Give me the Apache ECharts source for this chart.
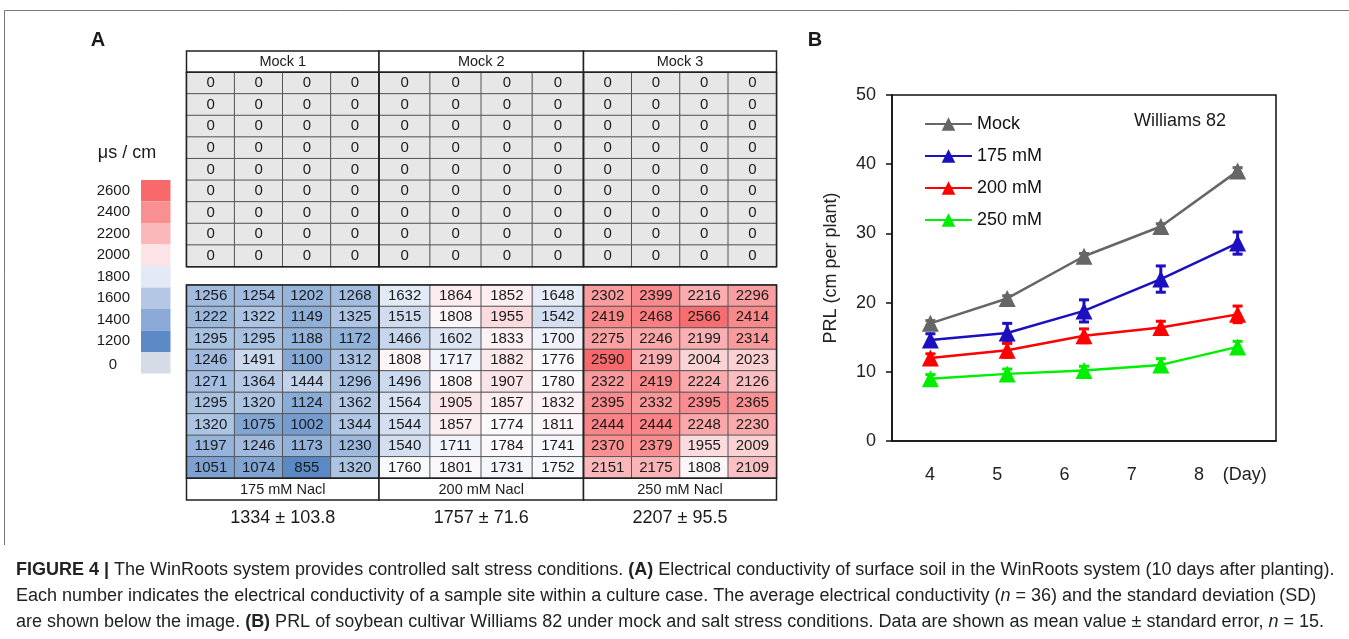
<!DOCTYPE html>
<html>
<head>
<meta charset="utf-8">
<title>Figure 4</title>
<script src="https://cdn.jsdelivr.net/npm/echarts@6.0.0/dist/echarts.min.js"></script>
<style>
  html, body { margin: 0; padding: 0; background: #fff; }
  #main { width: 1349px; height: 639px; }
</style>
</head>
<body>
<div id="main"></div>
<script>
// ---- panel A: conductivity (us/cm), 9 rows x 4 sites per culture case
var siteCols = ['1', '2', '3', '4'];
var siteRows = ['1', '2', '3', '4', '5', '6', '7', '8', '9'];

var mockNames = ['Mock 1', 'Mock 2', 'Mock 3'];
var saltNames = ['175 mM Nacl', '200 mM Nacl', '250 mM Nacl'];
var saltStats = ['1334 \u00b1 103.8', '1757 \u00b1 71.6', '2207 \u00b1 95.5'];

var mock1 = [[0,0,0,0],[0,0,0,0],[0,0,0,0],[0,0,0,0],[0,0,0,0],[0,0,0,0],[0,0,0,0],[0,0,0,0],[0,0,0,0]];
var mock2 = [[0,0,0,0],[0,0,0,0],[0,0,0,0],[0,0,0,0],[0,0,0,0],[0,0,0,0],[0,0,0,0],[0,0,0,0],[0,0,0,0]];
var mock3 = [[0,0,0,0],[0,0,0,0],[0,0,0,0],[0,0,0,0],[0,0,0,0],[0,0,0,0],[0,0,0,0],[0,0,0,0],[0,0,0,0]];

var salt175 = [
  [1256, 1254, 1202, 1268],
  [1222, 1322, 1149, 1325],
  [1295, 1295, 1188, 1172],
  [1246, 1491, 1100, 1312],
  [1271, 1364, 1444, 1296],
  [1295, 1320, 1124, 1362],
  [1320, 1075, 1002, 1344],
  [1197, 1246, 1173, 1230],
  [1051, 1074, 855, 1320]
];
var salt200 = [
  [1632, 1864, 1852, 1648],
  [1515, 1808, 1955, 1542],
  [1466, 1602, 1833, 1700],
  [1808, 1717, 1882, 1776],
  [1496, 1808, 1907, 1780],
  [1564, 1905, 1857, 1832],
  [1544, 1857, 1774, 1811],
  [1540, 1711, 1784, 1741],
  [1760, 1801, 1731, 1752]
];
var salt250 = [
  [2302, 2399, 2216, 2296],
  [2419, 2468, 2566, 2414],
  [2275, 2246, 2199, 2314],
  [2590, 2199, 2004, 2023],
  [2322, 2419, 2224, 2126],
  [2395, 2332, 2395, 2365],
  [2444, 2444, 2248, 2230],
  [2370, 2379, 1955, 2009],
  [2151, 2175, 1808, 2109]
];

var scaleLabels = ['2600', '2400', '2200', '2000', '1800', '1600', '1400', '1200', '0'];
var scaleColors = ['#f8696b', '#f98f91', '#fbb8ba', '#fce4e6', '#e3e9f5', '#b4c7e4', '#8caad7', '#5b8ac6', '#d6dce5'];

// ---- panel B: PRL (cm per plant)
var days = [4, 5, 6, 7, 8];
var dayLabels = ['4', '5', '6', '7', '8', '(Day)'];
var dayLabelPos = [4, 5, 6, 7, 8, 8.68];
var prlMock = [17.0, 20.6, 26.7, 31.0, 39.0];
var prl175 = [14.6, 15.6, 18.8, 23.4, 28.6];
var prl200 = [12.0, 13.1, 15.2, 16.4, 18.3];
var prl250 = [9.0, 9.7, 10.2, 11.0, 13.6];
var errMock = [0.4, 0.4, 0.4, 0.4, 0.5];
var err175 = [0.9, 1.4, 1.6, 1.9, 1.6];
var err200 = [0.6, 1.0, 1.0, 0.9, 1.2];
var err250 = [0.6, 0.7, 0.6, 0.9, 0.8];

var FONT = '"Liberation Sans", Arial, sans-serif';

function toCells(mat) {
  var out = [];
  mat.forEach(function (r, i) {
    r.forEach(function (v, j) { out.push([j, i, v]); });
  });
  return out;
}

// excel-like 3 colour scale, white a bit above the middle
function hex2rgb(h) { return [parseInt(h.substr(1, 2), 16), parseInt(h.substr(3, 2), 16), parseInt(h.substr(5, 2), 16)]; }
function mix(a, b, t) {
  var A = hex2rgb(a), B = hex2rgb(b);
  return 'rgb(' + [0, 1, 2].map(function (k) { return Math.round(A[k] + (B[k] - A[k]) * t); }).join(',') + ')';
}
var vmMin = 855, vmMax = 2590, vmMid = 1775;
var stops = [];
for (var k = 0; k <= 40; k++) {
  var v = vmMin + (vmMax - vmMin) * k / 40;
  stops.push(v < vmMid ? mix('#5a8ac6', '#fcfcff', (v - vmMin) / (vmMid - vmMin))
                       : mix('#fcfcff', '#f8696b', (v - vmMid) / (vmMax - vmMid)));
}

var blocks = [[186.5, 192.5], [379, 204.5], [583.5, 193]];
var topY = 72.3, topH = 194.4, botY = 285, botH = 193.3;

var grids = [], xAxes = [], yAxes = [], series = [];
var mats = [mock1, mock2, mock3, salt175, salt200, salt250];
mats.forEach(function (m, i) {
  var b = blocks[i % 3];
  var isTop = i < 3;
  grids.push({ left: b[0], width: b[1], top: isTop ? topY : botY, height: isTop ? topH : botH });
  xAxes.push({ type: 'category', gridIndex: i, data: siteCols, show: false });
  yAxes.push({ type: 'category', gridIndex: i, data: siteRows, inverse: true, show: false });
  series.push({
    type: 'heatmap', xAxisIndex: i, yAxisIndex: i,
    data: toCells(m),
    itemStyle: { borderColor: '#555', borderWidth: 1 },
    label: { show: true, fontSize: 15, fontFamily: FONT, color: '#1a1a1a',
             formatter: function (p) { return p.value[2]; } },
    emphasis: { disabled: true }
  });
});

// panel B grid + axes (index 6)
grids.push({ left: 892, top: 95, width: 384, height: 346, show: true, borderColor: '#111', borderWidth: 1.5 });
xAxes.push({
  type: 'value', gridIndex: 6, min: 3.5, max: 8.5,
  axisLine: { lineStyle: { color: '#111', width: 1.5 } },
  axisTick: { show: false }, axisLabel: { show: false }, splitLine: { show: false }
});
xAxes.push({
  type: 'value', gridIndex: 6, min: 3.435, max: 9.145, position: 'bottom',
  axisLine: { show: false }, axisTick: { show: false }, splitLine: { show: false },
  axisLabel: {
    customValues: dayLabelPos, margin: 25, fontSize: 18, color: '#222', fontFamily: FONT,
    formatter: function (v) { return dayLabels[dayLabelPos.indexOf(v)]; }
  }
});
yAxes.push({
  type: 'value', gridIndex: 6, min: 0, max: 50, interval: 10,
  name: 'PRL (cm per plant)', nameLocation: 'middle', nameGap: 52,
  nameTextStyle: { fontSize: 18, color: '#222', fontFamily: FONT },
  axisLine: { show: true, lineStyle: { color: '#111', width: 1.5 } },
  axisTick: { show: true, length: 6, lineStyle: { color: '#111', width: 1.5 } },
  axisLabel: { fontSize: 18, color: '#222', margin: 16, fontFamily: FONT },
  splitLine: { show: false }
});

var lineDefs = [
  ['Mock', prlMock, errMock, '#666666'],
  ['175 mM', prl175, err175, '#1c0fbf'],
  ['200 mM', prl200, err200, '#ff0000'],
  ['250 mM', prl250, err250, '#00ee00']
];
lineDefs.forEach(function (d) {
  var color = d[3];
  series.push({
    type: 'custom', name: d[0] + ' err', xAxisIndex: 6, yAxisIndex: 6, z: 3, silent: true,
    data: days.map(function (x, i) { return [x, d[1][i] - d[2][i], d[1][i] + d[2][i]]; }),
    renderItem: function (params, api) {
      var lo = api.coord([api.value(0), api.value(1)]);
      var hi = api.coord([api.value(0), api.value(2)]);
      var w = 5, st = { stroke: color, lineWidth: 3 };
      return { type: 'group', children: [
        { type: 'line', shape: { x1: lo[0], y1: lo[1], x2: hi[0], y2: hi[1] }, style: st },
        { type: 'line', shape: { x1: lo[0] - w, y1: lo[1], x2: lo[0] + w, y2: lo[1] }, style: st },
        { type: 'line', shape: { x1: hi[0] - w, y1: hi[1], x2: hi[0] + w, y2: hi[1] }, style: st }
      ] };
    }
  });
  series.push({
    type: 'line', name: d[0], xAxisIndex: 6, yAxisIndex: 6, z: 4,
    data: days.map(function (x, i) { return [x, d[1][i]]; }),
    symbol: 'triangle', symbolSize: 17, showSymbol: true,
    itemStyle: { color: color }, lineStyle: { color: color, width: 2.5 }
  });
});

// ---- decorations
var gfx = [];
function txt(x, y, s, size, extra) {
  var o = { type: 'text', x: x, y: y, z: 100,
    style: { text: s, fontSize: size, fontFamily: FONT, fill: '#1a1a1a', textAlign: 'center', textVerticalAlign: 'middle' } };
  if (extra) for (var e in extra) o.style[e] = extra[e];
  return o;
}
function box(x, y, w, h, fill) {
  return { type: 'rect', z: 100, shape: { x: x, y: y, width: w, height: h },
    style: { fill: fill || 'none', stroke: '#222', lineWidth: 1.5 } };
}

// frame
gfx.push({ type: 'polyline', z: 100, shape: { points: [[1349, 10.5], [4.5, 10.5], [4.5, 545]] }, style: { stroke: '#777', lineWidth: 1, fill: 'none' } });

gfx.push(txt(98, 40, 'A', 20, { fontWeight: 'bold' }));
gfx.push(txt(815, 40, 'B', 20, { fontWeight: 'bold' }));

blocks.forEach(function (b, i) {
  gfx.push(box(b[0], 51, b[1], topY - 51, '#fff'));
  gfx.push(txt(b[0] + b[1] / 2, 62, mockNames[i], 14.5));
  gfx.push(box(b[0], topY, b[1], topH));
  gfx.push(box(b[0], botY, b[1], botH));
  gfx.push(box(b[0], botY + botH, b[1], 500 - botY - botH, '#fff'));
  gfx.push(txt(b[0] + b[1] / 2, 489.5, saltNames[i], 14.5));
  gfx.push(txt(b[0] + b[1] / 2, 518, saltStats[i], 18));
});

// colour key
gfx.push(txt(127, 153, '\u03bcs / cm', 18));
scaleLabels.forEach(function (lab, i) {
  var y = 180 + i * 21.5;
  gfx.push({ type: 'rect', z: 100, shape: { x: 141, y: y, width: 29.5, height: 21.5 }, style: { fill: scaleColors[i] } });
  if (lab === '0') gfx.push(txt(113, y + 13, lab, 15));
  else gfx.push(txt(130, y + 10.5, lab, 15, { textAlign: 'right' }));
});

gfx.push(txt(1180, 121, 'Williams 82', 18));

// caption
var CAPF = '"Liberation Sans Narrow", "Liberation Sans", Arial';
var capRich = {
  b: { fontWeight: 'bold', fontSize: 18, fontFamily: CAPF, fill: '#222' },
  i: { fontStyle: 'italic', fontSize: 18, fontFamily: CAPF, fill: '#222' }
};
var capLines = [
  '{b|FIGURE 4 |} The WinRoots system provides controlled salt stress conditions. {b|(A)} Electrical conductivity of surface soil in the WinRoots system (10 days after planting).',
  'Each number indicates the electrical conductivity of a sample site within a culture case. The average electrical conductivity ({i|n} = 36) and the standard deviation (SD)',
  'are shown below the image. {b|(B)} PRL of soybean cultivar Williams 82 under mock and salt stress conditions. Data are shown as mean value \u00b1 standard error, {i|n} = 15.'
];
capLines.forEach(function (s, i) {
  gfx.push({ type: 'text', x: 16, y: 570 + i * 26, z: 100,
    style: { text: s, rich: capRich, fontSize: 18, fontFamily: CAPF,
             fill: '#222', textAlign: 'left', textVerticalAlign: 'middle' } });
});

var myChart = echarts.init(document.getElementById('main'));
var option = {
  animation: false,
  textStyle: { fontFamily: FONT },
  grid: grids,
  xAxis: xAxes,
  yAxis: yAxes,
  visualMap: [
    { type: 'continuous', show: false, seriesIndex: [3, 4, 5], min: vmMin, max: vmMax, inRange: { color: stops } },
    { type: 'continuous', show: false, seriesIndex: [0, 1, 2], min: 0, max: 1, inRange: { color: ['#e7e7e7', '#e7e7e7'] } }
  ],
  legend: {
    data: ['Mock', '175 mM', '200 mM', '250 mM'],
    orient: 'vertical', left: 919, top: 110,
    itemWidth: 47, itemHeight: 17, itemGap: 14,
    textStyle: { fontSize: 18, color: '#111', fontFamily: FONT },
    selectedMode: false
  },
  series: series,
  graphic: gfx
};
myChart.setOption(option);
</script>
</body>
</html>
